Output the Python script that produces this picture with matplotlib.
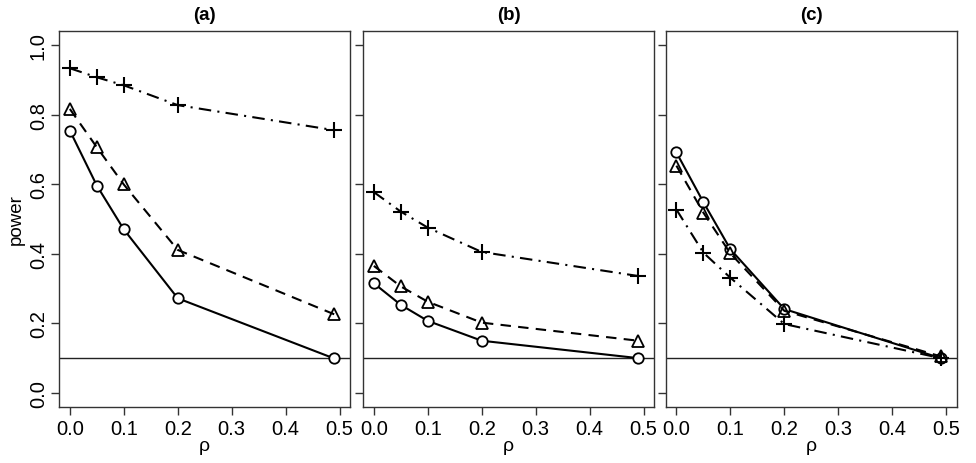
import matplotlib
matplotlib.use("Agg")
import matplotlib.pyplot as plt

plt.rcParams['font.family'] = ['Liberation Sans', 'DejaVu Sans']

# valores de rho (eje x)
rho = [0.0, 0.05, 0.1, 0.2, 0.49]

# panel (a)
circA = [0.754, 0.596, 0.470, 0.272, 0.099]
triA = [0.816, 0.706, 0.599, 0.411, 0.226]
plusA = [0.933, 0.907, 0.884, 0.827, 0.755]

# panel (b)
circB = [0.315, 0.253, 0.207, 0.150, 0.100]
triB = [0.365, 0.306, 0.262, 0.202, 0.150]
plusB = [0.577, 0.521, 0.475, 0.405, 0.336]

# panel (c)
circC = [0.691, 0.548, 0.413, 0.241, 0.100]
triC = [0.653, 0.518, 0.401, 0.236, 0.105]
plusC = [0.527, 0.403, 0.331, 0.198, 0.100]

titulos = ['(a)', '(b)', '(c)']
datos = [(circA, triA, plusA), (circB, triB, plusB), (circC, triC, plusC)]
nivel = 0.1

fig = plt.figure(figsize=(9.76, 4.64), dpi=100)
izq = [0.0605, 0.372, 0.682]
ancho = 0.2985
abajo = 0.121
alto = 0.81

for i in range(3):
	ax = fig.add_axes([izq[i], abajo, ancho, alto])
	circ, tri, plus = datos[i]
	ax.axhline(nivel, color='#222222', linewidth=1.0, zorder=1)
	ax.plot(rho, circ, '-', color='black', linewidth=1.5, marker='o', markersize=7.5,
		markerfacecolor='white', markeredgewidth=1.3, zorder=3)
	ax.plot(rho, tri, '--', color='black', linewidth=1.5, marker='^', markersize=9,
		markerfacecolor='none', markeredgewidth=1.3, dashes=(5, 3.5), zorder=3)
	ax.plot(rho, plus, '-.', color='black', linewidth=1.5, marker='+', markersize=12,
		markeredgewidth=1.5, dashes=(6, 3, 1, 3), zorder=3)
	ax.set_xlim(-0.02, 0.52)
	ax.set_ylim(-0.04, 1.04)
	ax.set_xticks([0.0, 0.1, 0.2, 0.3, 0.4, 0.5])
	ax.set_xticklabels(['0.0', '0.1', '0.2', '0.3', '0.4', '0.5'])
	ax.set_yticks([0.0, 0.2, 0.4, 0.6, 0.8, 1.0])
	if i == 0:
		ax.set_yticklabels(['0.0', '0.2', '0.4', '0.6', '0.8', '1.0'], rotation=90, va='center')
		ax.set_ylabel('power', fontsize=13.5, labelpad=3)
	else:
		ax.set_yticklabels([])
	ax.tick_params(direction='out', length=6, width=1, labelsize=14.5, color='#333333')
	ax.tick_params(axis='y', pad=2)
	ax.tick_params(axis='x', pad=3)
	ax.set_xlabel('ρ', fontsize=14, labelpad=-1)
	ax.set_title(titulos[i], fontsize=13.5, fontweight='bold', pad=9)
	for s in ax.spines.values():
		s.set_color('#333333')
		s.set_linewidth(1.0)

plt.savefig('out.png', dpi=100)
